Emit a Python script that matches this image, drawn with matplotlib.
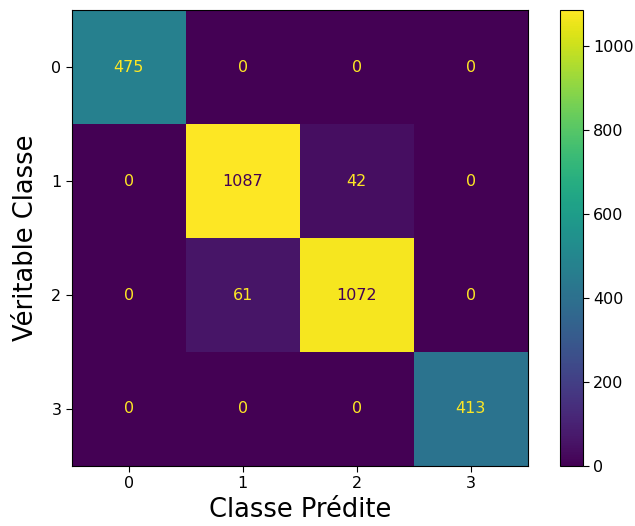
import numpy as np
import matplotlib.pyplot as plt

classes = ['0', '1', '2', '3']
cm = np.array([
    [475, 0, 0, 0],
    [0, 1087, 42, 0],
    [0, 61, 1072, 0],
    [0, 0, 0, 413]
])

plt.rcParams['font.size'] = 11.5
plt.rcParams['xtick.major.size'] = 4
plt.rcParams['ytick.major.size'] = 4

fig = plt.figure(figsize=(6.35, 5.26), dpi=100)
ax = fig.add_axes([0.113, 0.114, 0.718, 0.867])
cax = fig.add_axes([0.882, 0.114, 0.036, 0.867])

cmap = plt.get_cmap('viridis')
im = ax.imshow(cm, interpolation='nearest', cmap=cmap)
fig.colorbar(im, cax=cax)

thresh = (cm.max() + cm.min()) / 2.0
for i in range(cm.shape[0]):
    for j in range(cm.shape[1]):
        color = cmap(0) if cm[i, j] >= thresh else cmap(1.0)
        ax.text(j, i, str(cm[i, j]), ha='center', va='center', color=color)

ax.set_xticks(range(len(classes)))
ax.set_xticklabels(classes)
ax.set_yticks(range(len(classes)))
ax.set_yticklabels(classes)
ax.set_xlabel('Classe Prédite', fontsize=18.5)
ax.set_ylabel('Véritable Classe', fontsize=18.5, labelpad=9)

plt.savefig('out.png', dpi=100)
